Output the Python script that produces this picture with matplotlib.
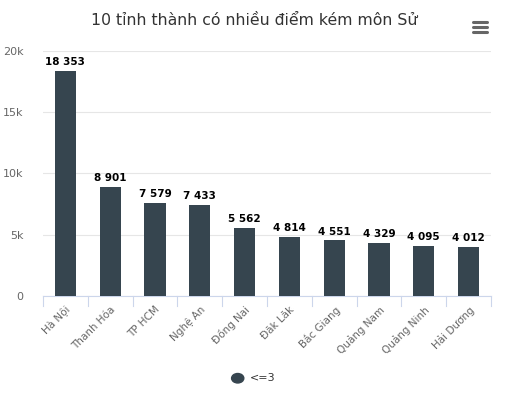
import matplotlib.pyplot as plt
import numpy as np

provinces = ["Hà Nội", "Thanh Hóa", "TP HCM", "Nghệ An", "Đồng Nai",
             "Đăk Lăk", "Bắc Giang", "Quảng Nam", "Quảng Ninh", "Hải Dương"]
counts = [18353, 8901, 7579, 7433, 5562, 4814, 4551, 4329, 4095, 4012]
yticks = [0, 5000, 10000, 15000, 20000]
ylabels = ["0", "5k", "10k", "15k", "20k"]

bar_col = "#36454f"
plt.rcParams["font.family"] = ["DejaVu Sans"]

fig = plt.figure(figsize=(5.09, 3.94), dpi=100)
ax = fig.add_axes([0.0845, 0.2487, 0.8801, 0.6219])

x = np.arange(len(provinces))
ax.bar(x, counts, width=0.47, color=bar_col, zorder=3)
for xi, v in zip(x, counts):
    ax.text(xi, v + 300, "{:,}".format(v).replace(",", " "), ha="center", va="bottom",
            fontsize=7.5, fontweight="bold", color="black", zorder=4)

ax.set_xlim(-0.5, len(provinces) - 0.5)
ax.set_ylim(0, 20000)
ax.set_yticks(yticks)
ax.set_yticklabels(ylabels, color="#666666", fontsize=8)
ax.yaxis.grid(True, color="#e6e6e6", lw=0.8, zorder=0)
ax.tick_params(axis="y", length=0, pad=14)

ax.set_xticks(x)
ax.set_xticklabels(provinces, rotation=45, ha="right", rotation_mode="anchor",
                   color="#666666", fontsize=7.5)
ax.tick_params(axis="x", length=0, pad=6)
for b in np.arange(-0.5, len(provinces), 1.0):
    ax.plot([b, b], [0, -0.04], transform=ax.get_xaxis_transform(),
            color="#ccd6eb", lw=0.8, clip_on=False)

for s in ["top", "right", "left"]:
    ax.spines[s].set_visible(False)
ax.spines["bottom"].set_color("#ccd6eb")

fig.text(0.5, 0.948, "10 tỉnh thành có nhiều điểm kém môn Sử", ha="center", va="center",
         fontsize=11.3, color="#333333")

# menu icon
for yy in [0.919, 0.931, 0.944]:
    fig.add_artist(plt.Line2D([0.929, 0.957], [yy, yy], color="#666666", lw=2.2,
                              solid_capstyle="round"))

# legend
fig.add_artist(plt.Circle((0.467, 0.04), 0.012, transform=fig.transFigure,
                          color=bar_col))
fig.text(0.49, 0.04, "<=3", ha="left", va="center", fontsize=8, color="#333333")

fig.savefig("out.png", dpi=100)
